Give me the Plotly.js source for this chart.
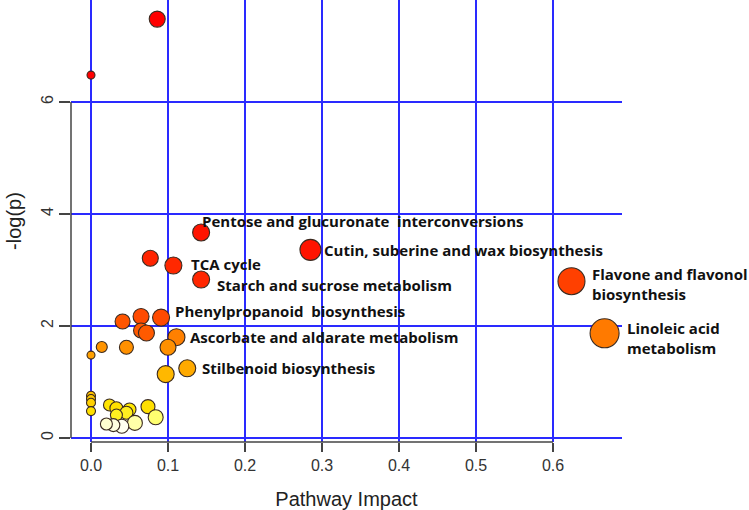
<!DOCTYPE html>
<html>
<head>
<meta charset="utf-8">
<script src="https://cdn.plot.ly/plotly-3.0.1.min.js"></script>
<style>html,body{margin:0;padding:0;background:#fff;}#chart{width:749px;height:510px;}</style>
</head>
<body>
<div id="chart"></div>
<script>
// Pathway impact (x) and -log(p) (y) for each pathway
const impact = [0.086, 0.0, 0.143, 0.285, 0.077, 0.107, 0.143, 0.624, 0.065, 0.091, 0.041, 0.065, 0.072, 0.667, 0.111, 0.100, 0.046, 0.014, 0.0, 0.125, 0.097, 0.0, 0.0, 0.0, 0.0, 0.074, 0.024, 0.033, 0.050, 0.046, 0.033, 0.084, 0.057, 0.040, 0.029, 0.020];
const logp   = [7.48, 6.48, 3.67, 3.36, 3.21, 3.08, 2.83, 2.80, 2.17, 2.15, 2.08, 1.92, 1.875, 1.87, 1.80, 1.62, 1.62, 1.625, 1.48, 1.245, 1.14, 0.755, 0.696, 0.63, 0.48, 0.56, 0.59, 0.53, 0.51, 0.45, 0.41, 0.37, 0.27, 0.21, 0.23, 0.25];
const markerSize = [16, 8, 17, 21, 16, 17, 17, 27, 16, 17, 15, 15, 16, 29, 17, 16, 14, 11, 8, 17, 17, 9, 9, 9, 9, 14, 12, 13, 13, 13, 12, 15, 15, 14, 13, 12];
const markerColor = ["#FF0000", "#FF0000", "#FF1400", "#FF1400", "#FF2400", "#FF2800", "#FF2600", "#FF4000", "#FF4A00", "#FF4A00", "#FF5500", "#FF5A00", "#FF5A00", "#FF7A00", "#FF8000", "#FF9000", "#FF9000", "#FF9400", "#FFA000", "#FFAA00", "#FFB800", "#FFC000", "#FFC800", "#FFD000", "#FFE000", "#FFDF00", "#FFE400", "#FFE000", "#FFE800", "#FFEE20", "#FFF020", "#FFFF70", "#FFFFA8", "#FFFFF0", "#FFFFE0", "#FFFFD0"];

// Labelled pathways: index into the arrays above, label text, text offset (px)
const labelIndex = [2, 3, 5, 6, 9, 14, 19, 7, 13];
const labelText = [
  "Pentose and glucuronate  interconversions",
  "Cutin, suberine and wax biosynthesis",
  "TCA cycle",
  "Starch and sucrose metabolism",
  "Phenylpropanoid  biosynthesis",
  "Ascorbate and aldarate metabolism",
  "Stilbenoid biosynthesis",
  "Flavone and flavonol<br>biosynthesis",
  "Linoleic acid<br>metabolism"
];
const labelDx = [-1, 12, 16, 14, 12, 12, 13, 19, 20];
const labelDy = [11, 0, 2, -5, 7, 0, 0, -3, -5];

const xTicks = [0, 0.1, 0.2, 0.3, 0.4, 0.5, 0.6];
const xTickText = ["0.0", "0.1", "0.2", "0.3", "0.4", "0.5", "0.6"];
const yTicks = [0, 2, 4, 6];

const trace = {
  x: impact, y: logp, type: "scatter", mode: "markers", cliponaxis: false,
  marker: {size: markerSize, color: markerColor, opacity: 1,
           line: {color: "#3a2a20", width: 1.1}},
  hoverinfo: "x+y"
};

const annotations = labelIndex.map((k, i) => ({
  x: impact[k], y: logp[k], xref: "x", yref: "y",
  text: "<b>" + labelText[i] + "</b>", showarrow: false,
  xanchor: "left", yanchor: "middle", align: "left",
  xshift: labelDx[i], yshift: labelDy[i],
  font: {family: "'Open Sans', Roboto, sans-serif", size: 15, color: "#111"}
}));

const axisFont = {family: "'Liberation Sans', Arial, sans-serif", size: 16, color: "#333"};

const layout = {
  width: 749, height: 510,
  margin: {l: 71, r: 127, t: 0, b: 68},
  paper_bgcolor: "#fff", plot_bgcolor: "#fff",
  showlegend: false,
  xaxis: {
    range: [-0.025974, 0.68961], tickvals: xTicks, ticktext: xTickText,
    ticks: "outside", ticklen: 9, tickcolor: "#444", tickwidth: 1.3,
    showgrid: true, gridcolor: "#2a2aff", gridwidth: 2,
    zeroline: false, showline: false, tickfont: axisFont,
    title: {text: "Pathway Impact", font: {family: "'Liberation Sans', Arial, sans-serif", size: 20, color: "#222"}}
  },
  yaxis: {
    range: [-0.071429, 7.821429], tickvals: yTicks,
    ticks: "outside", ticklen: 11, tickcolor: "#444", tickwidth: 1.3,
    tickangle: -90,
    showgrid: true, gridcolor: "#2a2aff", gridwidth: 2,
    zeroline: false, showline: false, tickfont: axisFont,
    title: {text: "-log(p)", font: {family: "'Liberation Sans', Arial, sans-serif", size: 20, color: "#222"}}
  },
  shapes: [
    {type: "line", xref: "paper", yref: "y", x0: 0, x1: 0, y0: yTicks[0], y1: yTicks[yTicks.length - 1], line: {color: "#444", width: 1.5}},
    {type: "line", xref: "x", yref: "paper", x0: xTicks[0], x1: xTicks[xTicks.length - 1], y0: 0, y1: 0, line: {color: "#444", width: 1.5}}
  ],
  annotations: annotations
};

Plotly.newPlot("chart", [trace], layout, {staticPlot: true, displayModeBar: false});
</script>
</body>
</html>
